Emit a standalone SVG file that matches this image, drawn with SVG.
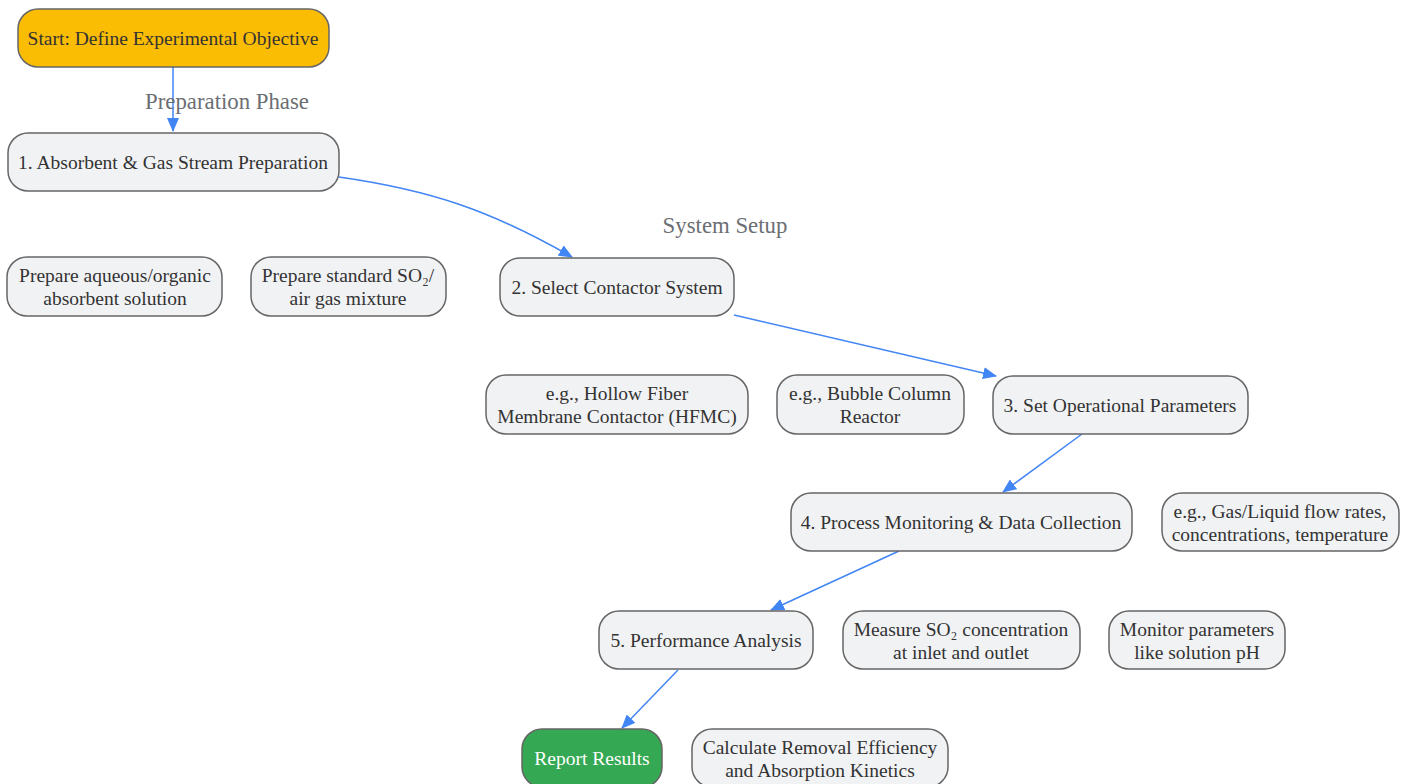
<svg xmlns="http://www.w3.org/2000/svg" width="1409" height="784" viewBox="0 0 1409 784">
<style>
.n rect{fill:#f1f2f4;stroke:#666;stroke-width:1.5}
.n text{font-family:"Liberation Serif","Times New Roman",serif;font-size:19.5px;fill:#333;text-anchor:middle}
#start rect{fill:#fbbc04}
#report rect{fill:#34a853}
#report text{fill:#fff}
.e path{fill:none;stroke:#4285f4;stroke-width:1.5}
.lbl{font-family:"Liberation Serif","Times New Roman",serif;font-size:22.8px;fill:#6b6e73;text-anchor:middle}
</style>
<defs>
<marker id="ah" viewBox="0 0 14 12" refX="13" refY="6" markerWidth="14" markerHeight="12" markerUnits="userSpaceOnUse" orient="auto">
<path d="M0,0 L14,6 L0,12 Z" fill="#4285f4"/>
</marker>
</defs>
<rect width="1409" height="784" fill="#fff"/>
<g id="connectors" class="e">
<path d="M173,67 L173,131" marker-end="url(#ah)"/>
<path d="M339,177 C430,190 490,210 572,257" marker-end="url(#ah)"/>
<path d="M734,315 L996,376" marker-end="url(#ah)"/>
<path d="M1082,434 L1003,492" marker-end="url(#ah)"/>
<path d="M899,551 L771,610" marker-end="url(#ah)"/>
<path d="M678,670 L622,728" marker-end="url(#ah)"/>
</g>
<text class="lbl" x="227" y="109">Preparation Phase</text>
<text class="lbl" x="725" y="233">System Setup</text>
<g id="start" class="n"><rect x="18" y="9" width="311" height="58" rx="20"/><text x="173" y="45">Start: Define Experimental Objective</text></g>
<g id="step1" class="n"><rect x="8" y="133" width="331" height="58" rx="20"/><text x="173" y="169">1. Absorbent &amp; Gas Stream Preparation</text></g>
<g id="prep_abs" class="n"><rect x="7" y="257" width="215" height="59" rx="20"/><text x="115" y="282">Prepare aqueous/organic</text><text x="115" y="305">absorbent solution</text></g>
<g id="prep_gas" class="n"><rect x="251" y="257" width="195" height="59" rx="20"/><text x="348" y="282">Prepare standard SO₂/</text><text x="348" y="305">air gas mixture</text></g>
<g id="step2" class="n"><rect x="500" y="258" width="234" height="58" rx="20"/><text x="617" y="294">2. Select Contactor System</text></g>
<g id="hfmc" class="n"><rect x="486" y="375" width="262" height="59" rx="20"/><text x="617" y="400">e.g., Hollow Fiber</text><text x="617" y="423">Membrane Contactor (HFMC)</text></g>
<g id="bubble" class="n"><rect x="777" y="375" width="187" height="59" rx="20"/><text x="870" y="400">e.g., Bubble Column</text><text x="870" y="423">Reactor</text></g>
<g id="step3" class="n"><rect x="993" y="376" width="255" height="58" rx="20"/><text x="1120" y="412">3. Set Operational Parameters</text></g>
<g id="step4" class="n"><rect x="791" y="493" width="341" height="58" rx="20"/><text x="961" y="529">4. Process Monitoring &amp; Data Collection</text></g>
<g id="flow" class="n"><rect x="1162" y="493" width="237" height="58" rx="20"/><text x="1280" y="518">e.g., Gas/Liquid flow rates,</text><text x="1280" y="541">concentrations, temperature</text></g>
<g id="step5" class="n"><rect x="599" y="611" width="214" height="58" rx="20"/><text x="706" y="647">5. Performance Analysis</text></g>
<g id="measure" class="n"><rect x="843" y="611" width="237" height="58" rx="20"/><text x="961" y="636">Measure SO₂ concentration</text><text x="961" y="659">at inlet and outlet</text></g>
<g id="monitor" class="n"><rect x="1109" y="611" width="176" height="58" rx="20"/><text x="1197" y="636">Monitor parameters</text><text x="1197" y="659">like solution pH</text></g>
<g id="report" class="n"><rect x="522" y="729" width="140" height="58" rx="20"/><text x="592" y="765">Report Results</text></g>
<g id="calc" class="n"><rect x="692" y="729" width="256" height="58" rx="20"/><text x="820" y="754">Calculate Removal Efficiency</text><text x="820" y="777">and Absorption Kinetics</text></g>
</svg>
